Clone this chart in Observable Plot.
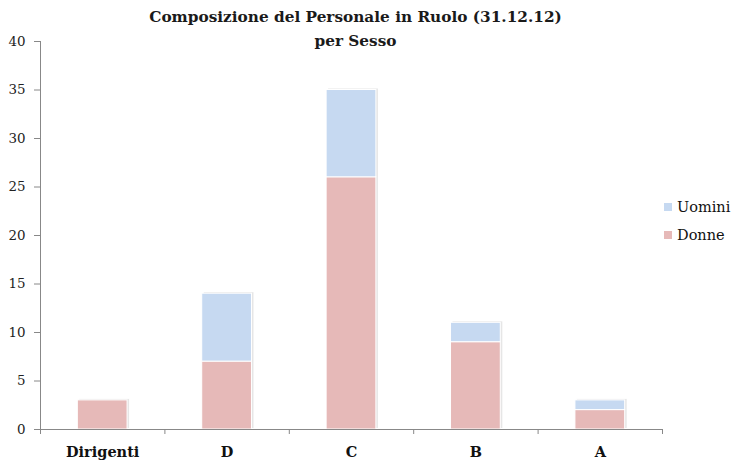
<!DOCTYPE html>
<html><head><meta charset="utf-8">
<script src="https://cdn.jsdelivr.net/npm/d3@7"></script>
<script src="https://cdn.jsdelivr.net/npm/@observablehq/plot@0.6"></script>
<style>
body{margin:0;background:#fff;}
#wrap{position:relative;width:741px;height:469px;font-family:"DejaVu Serif",serif;}
#title{position:absolute;left:0;top:5px;width:711px;text-align:center;font-weight:bold;font-size:15.3px;line-height:24px;color:#1a1a1a;}
#legend{position:absolute;left:664px;top:193px;font-size:14.5px;color:#111;}
#legend div{display:flex;align-items:center;height:28px;}
#legend span.sw{display:inline-block;width:8px;height:8px;margin-right:5px;}
</style></head>
<body><div id="wrap"><div id="title">Composizione del Personale in Ruolo (31.12.12)<br>per Sesso</div><div id="legend"></div></div>
<script>
const categories = ["Dirigenti","D","C","B","A"];
const donne = [3,7,26,9,2];
const uomini = [0,7,9,2,1];
const series = ["Uomini","Donne"];
const colors = ["#c6d9f1","#e6b9b8"];
const yTicks = [0,5,10,15,20,25,30,35,40];

const rows = [];
categories.forEach((c,i)=>{
  rows.push({cat:c, idx:i, sesso:"Donne", y1:0, y2:donne[i]});
  rows.push({cat:c, idx:i, sesso:"Uomini", y1:donne[i], y2:donne[i]+uomini[i]});
});
const totals = categories.map((c,i)=>({idx:i, tot:donne[i]+uomini[i]}));
const pad = 0.3;
const chart = Plot.plot({
  width:741, height:469,
  marginLeft:40, marginRight:79, marginTop:41, marginBottom:40,
  style:{fontFamily:"DejaVu Serif, serif", fontSize:"12px", color:"#222", background:"transparent"},
  x:{type:"linear", domain:[0,categories.length]},
  y:{type:"linear", domain:[0,40]},
  color:{domain:series, range:colors},
  marks:[
    Plot.rectY(totals,{x1:d=>d.idx+pad, x2:d=>d.idx+1-pad, y1:()=>0, y2:"tot", fill:"#dcdcdc", dx:2, dy:-1, opacity:0.7}),
    Plot.rectY(rows.filter(d=>d.y2>d.y1),{x1:d=>d.idx+pad, x2:d=>d.idx+1-pad, y1:"y1", y2:"y2", fill:"sesso", stroke:"white", strokeWidth:1}),
    Plot.ruleX([0],{stroke:"#888"}),
    Plot.ruleY([0],{stroke:"#888"}),
    Plot.axisY(yTicks,{tickSize:6, stroke:"#888", tickPadding:9, fontSize:13.4, fill:"#222"}),
    Plot.axisX(d3.range(categories.length+1),{tickSize:5, stroke:"#888", text:null, label:null}),
    Plot.text(categories,{x:(d,i)=>i+0.5, frameAnchor:"bottom", dy:23, lineAnchor:"middle", text:d=>d, fontWeight:"bold", fontSize:14.5, fill:"#111"})
  ]
});
document.getElementById("wrap").appendChild(chart);
chart.style.position="absolute"; chart.style.left="0"; chart.style.top="0";
const lg=document.getElementById("legend");
series.forEach((s,i)=>{const d=document.createElement("div");d.innerHTML=`<span class="sw" style="background:${colors[i]}"></span>${s}`;lg.appendChild(d);});
</script></body></html>
